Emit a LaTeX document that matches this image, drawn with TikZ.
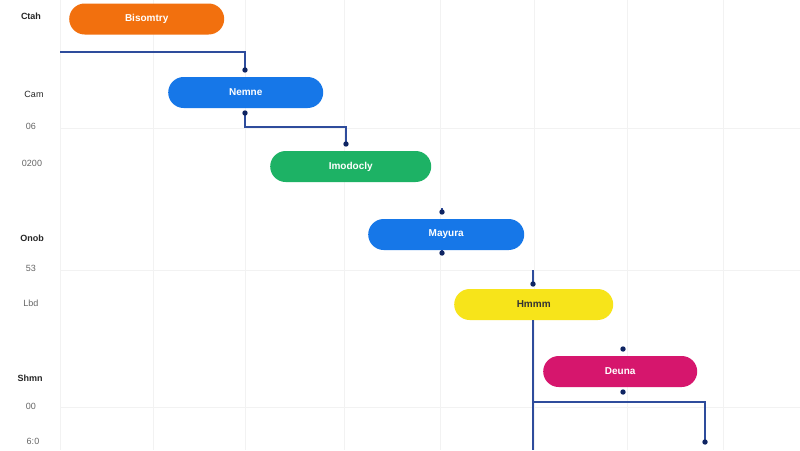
\documentclass[tikz,border=0pt]{standalone}
\usepackage{fontspec}
\setmainfont{Liberation Sans}
\begin{document}
\begin{tikzpicture}[x=1pt,y=-1pt,
  bar/.style={rounded corners=15.5pt, minimum height=31pt, inner sep=0pt, font=\fontsize{10}{11}\selectfont\bfseries, text=white, anchor=west},
  grid/.style={draw=black!5, line width=0.6pt},
  lab/.style={font=\fontsize{9}{10}\selectfont, text=black!85, anchor=center},
  labb/.style={font=\fontsize{9}{10}\selectfont\bfseries, text=black!85, anchor=center},
  labg/.style={font=\fontsize{9}{10}\selectfont, text=black!60, anchor=center}]
\definecolor{cor}{HTML}{F2700E}
\definecolor{cbl}{HTML}{1677E8}
\definecolor{cgr}{HTML}{1DB265}
\definecolor{cye}{HTML}{F7E41A}
\definecolor{cma}{HTML}{D6166D}
\definecolor{cln}{HTML}{2E4C9C}
\definecolor{cdt}{HTML}{0E2462}
\tikzset{conn/.style={draw=cln, line width=1.1pt}}
\useasboundingbox (0,0) rectangle (800,450);
\fill[white] (0,0) rectangle (800,450);
% grid
\foreach \x in {60,153,245,344,440,534,627,723} \draw[grid] (\x,0) -- (\x,450);
\foreach \y in {128,270,407} \draw[grid] (60,\y) -- (800,\y);
% left labels
\node[labb] (l1) at (31,16) {Ctah};
\node[lab] (l2) at (34,94) {Cam};
\node[labg] (l3) at (31,126) {06};
\node[labg] (l4) at (32,163) {0200};
\node[labb] (l5) at (32,238) {Onob};
\node[labg] (l6) at (31,268) {53};
\node[labg] (l7) at (31,303) {Lbd};
\node[labb] (l8) at (30,378) {Shmn};
\node[labg] (l9) at (31,406) {00};
\node[labg] (l10) at (33,441) {6:0};
% bars
\node[bar, fill=cor, minimum width=155pt] (b1) at (69,19) {Bisomtry};
\node[bar, fill=cbl, minimum width=155pt] (b2) at (168,92.5) {Nemne};
\node[bar, fill=cgr, minimum width=161pt] (b3) at (270,166.5) {Imodocly};
\node[bar, fill=cbl, minimum width=156pt] (b4) at (368,234.5) {Mayura};
\node[bar, fill=cye, minimum width=159pt, text=black!80] (b5) at (454,304.5) {Hmmm};
\node[bar, fill=cma, minimum width=154pt] (b6) at (543,371.5) {Deuna};
% connector points
\coordinate (s1) at (60,52);
\coordinate (d1) at (245,70);
\coordinate (d2) at (245,113);
\coordinate (d3) at (346,144);
\coordinate (d4) at (442,212);
\coordinate (d5) at (442,253);
\coordinate (s5) at (533,270);
\coordinate (d6) at (533,284);
\coordinate (d7) at (623,349);
\coordinate (d8) at (623,392);
\coordinate (e5) at (533,450);
\coordinate (d9) at (705,442);
% connectors
\draw[conn] (s1) -| (d1);
\draw[conn] (d2) |- (346,127) -- (d3);
\draw[conn] (d4) -- ++(0,-4);
\draw[conn] (d5) -- ++(0,-3);
\draw[conn] (s5) -- (d6);
\draw[conn] (b5.south -| s5) -- (e5);
\draw[conn] (533,402) -| (d9);
\foreach \p in {d1,d2,d3,d4,d5,d6,d7,d8,d9} \fill[cdt] (\p) circle (2.7pt);
\end{tikzpicture}
\end{document}
